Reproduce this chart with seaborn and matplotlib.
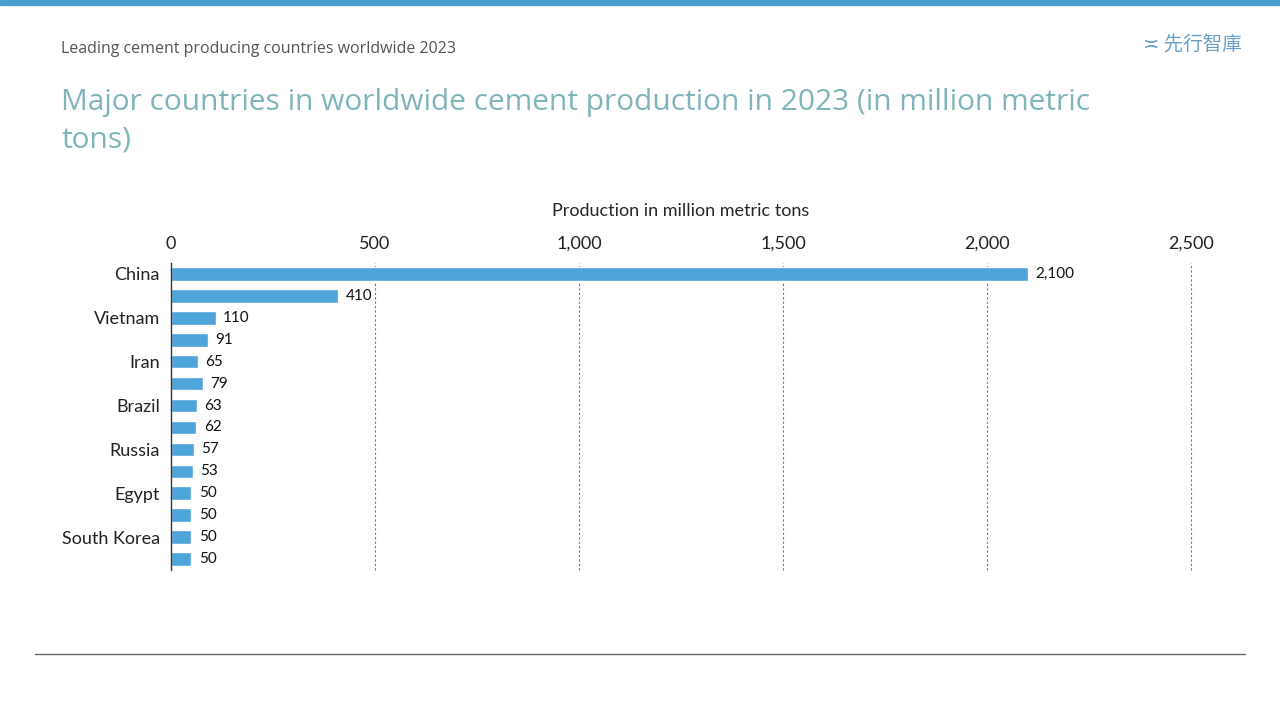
import matplotlib
matplotlib.use("Agg")
import matplotlib.pyplot as plt
import seaborn as sns
import pandas as pd

countries = ["China", "India", "Vietnam", "United States", "Iran", "Turkey", "Brazil",
             "Indonesia", "Russia", "Saudi Arabia", "Egypt", "Japan", "South Korea", "Pakistan"]
production = [2100, 410, 110, 91, 65, 79, 63, 62, 57, 53, 50, 50, 50, 50]
ticks_x = [0, 500, 1000, 1500, 2000, 2500]

sns.set_theme(style="white")
plt.rcParams['font.family'] = ['Lato', 'Noto Sans CJK SC', 'DejaVu Sans']

df = pd.DataFrame({"country": countries, "production": production})

fig = plt.figure(figsize=(12.8, 7.2), dpi=100)
ax = fig.add_axes([0.1336, 0.2083, 0.7969, 0.4264])
sns.barplot(data=df, x="production", y="country", color="#4ea5da", width=0.62,
            saturation=1, ax=ax)

ax.set_xlim(0, 2500)
ax.set_ylim(len(countries) - 0.5, -0.5)
ax.xaxis.tick_top()
ax.xaxis.set_label_position("top")
ax.set_xticks(ticks_x)
ax.set_xticklabels([f"{t:,}" for t in ticks_x], fontsize=13, color="#222222")
ax.set_xlabel("Production in million metric tons", fontsize=13, labelpad=14)
ax.set_ylabel("")
ax.set_yticks(range(len(countries)))
ax.set_yticklabels([c if i % 2 == 0 else "" for i, c in enumerate(countries)],
                   fontsize=13, color="#222222")
ax.tick_params(axis="both", length=0, pad=8)
for t in ticks_x[1:]:
    ax.axvline(t, color="#777777", linestyle=(0, (2, 2)), linewidth=0.8, zorder=0,
               clip_on=False)
for s in ["top", "right", "bottom"]:
    ax.spines[s].set_visible(False)
ax.spines["left"].set_color("#333333")
ax.spines["left"].set_linewidth(1)

for i, v in enumerate(production):
    ax.text(v + 18, i, f"{v:,}", va="center", ha="left", fontsize=11, color="#111111")

fig.patches.append(plt.Rectangle((0, 0.993), 1, 0.007, transform=fig.transFigure,
                                 color="#4a9fd0"))
fig.text(0.048, 0.932, "Leading cement producing countries worldwide 2023",
         fontsize=11.5, color="#555555", va="center", family="Open Sans")
fig.text(0.048, 0.858, "Major countries in worldwide cement production in 2023 (in million metric",
         fontsize=21.5, color="#7fb5ba", va="center", family="Open Sans")
fig.text(0.048, 0.805, "tons)", fontsize=21.5, color="#7fb5ba", va="center", family="Open Sans")
fig.text(0.97, 0.937, "≍ 先行智庫", fontsize=14, color="#6a9fc8", ha="right", va="center",
         family=['Noto Sans CJK TC', 'DejaVu Sans'])
fig.add_artist(plt.Line2D([0.027, 0.973], [0.091, 0.091], color="#666666", linewidth=1))

fig.savefig("out.png", dpi=100)
